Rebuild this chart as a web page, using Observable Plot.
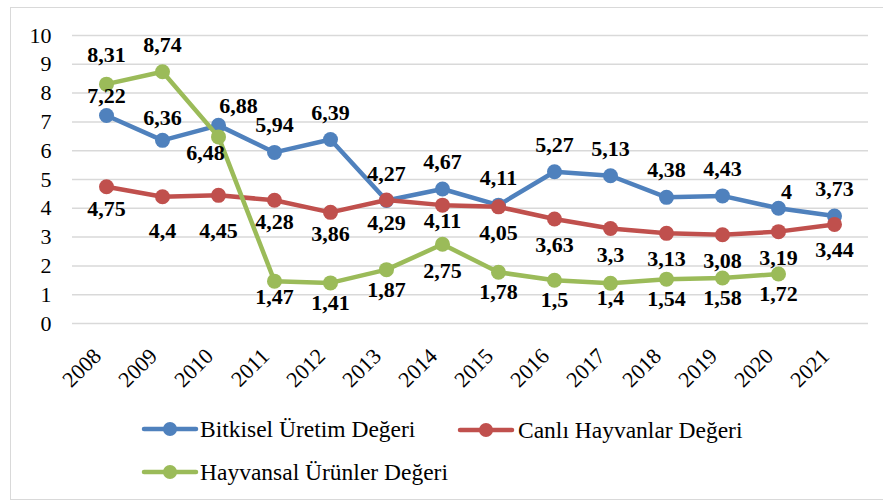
<!DOCTYPE html>
<html>
<head>
<meta charset="utf-8">
<script src="https://cdn.jsdelivr.net/npm/d3@7"></script>
<script src="https://cdn.jsdelivr.net/npm/@observablehq/plot@0.6"></script>
<style>
  html, body { margin: 0; padding: 0; background: #fff; }
  #wrap { position: relative; width: 883px; height: 502px; overflow: hidden; font-family: "Liberation Serif", "Times New Roman", serif; }
  #frame { position: absolute; left: 10px; top: 7px; width: 890px; height: 493px; border: 1.5px solid #d9d9d9; box-sizing: border-box; }
  #chart { position: absolute; left: 0; top: 0; }
  .sw { position: absolute; }
  .lt { position: absolute; height: 30px; line-height: 30px; font-size: 23.5px; color: #000; white-space: nowrap; }
</style>
</head>
<body>
<div id="wrap">
  <div id="frame"></div>
  <div id="chart"></div>
  <div id="legend"></div>
</div>
<script>
const years = ["2008","2009","2010","2011","2012","2013","2014","2015","2016","2017","2018","2019","2020","2021"];
const bitkisel = [7.22, 6.36, 6.88, 5.94, 6.39, 4.27, 4.67, 4.11, 5.27, 5.13, 4.38, 4.43, 4, 3.73];
const canli = [4.75, 4.4, 4.45, 4.28, 3.86, 4.29, 4.11, 4.05, 3.63, 3.3, 3.13, 3.08, 3.19, 3.44];
const hayvansal = [8.31, 8.74, 6.48, 1.47, 1.41, 1.87, 2.75, 1.78, 1.5, 1.4, 1.54, 1.58, 1.72];
const seriesNames = ["Bitkisel Üretim Değeri", "Canlı Hayvanlar Değeri", "Hayvansal Ürünler Değeri"];
const yTicks = [0, 1, 2, 3, 4, 5, 6, 7, 8, 9, 10];

const colors = ["#4F81BD", "#C0504D", "#9BBB59"];
const seriesValues = [bitkisel, canli, hayvansal];
// label placement (style): default offset per series, plus per-year nudges
const labelDefault = [{dx: 0, dy: -27}, {dx: 0, dy: 26}, {dx: 0, dy: 20}];
const labelNudge = [
  {"2008": {dy: -20}, "2009": {dy: -22}, "2010": {dx: 20, dy: -19}, "2020": {dx: 8, dy: -16}},
  {"2009": {dy: 34}, "2010": {dy: 36}, "2008": {dy: 22}, "2011": {dy: 22}, "2012": {dy: 22}, "2013": {dy: 23}, "2014": {dy: 16}},
  {"2008": {dy: -29}, "2009": {dy: -27}, "2010": {dx: -13, dy: 16}, "2014": {dy: 27}, "2011": {dy: 16}, "2017": {dy: 15}}
];

const font = "Liberation Serif";

const data = [];
seriesValues.forEach((vals, s) => {
  vals.forEach((v, i) => {
    const n = labelNudge[s][years[i]] || {};
    data.push({
      series: seriesNames[s], year: years[i], value: v, s,
      dx: n.dx ?? labelDefault[s].dx, dy: n.dy ?? labelDefault[s].dy
    });
  });
});
const fmt = v => String(v).replace(".", ",");

const marks = [
  Plot.gridY(yTicks, {stroke: "#d9d9d9", strokeOpacity: 1, strokeWidth: 1.5}),
  Plot.axisY({ticks: yTicks, tickSize: 0, tickPadding: 21, fontSize: 22, fontFamily: font, label: null, fill: "#000"}),
  Plot.axisX({tickSize: 0, tickRotate: -45, fontSize: 22, fontFamily: font, tickPadding: 29, dx: -9, label: null, fill: "#000"})
];
seriesNames.forEach((name, s) => {
  const d = data.filter(r => r.s === s);
  marks.push(Plot.line(d, {x: "year", y: "value", stroke: colors[s], strokeWidth: 4.5}));
  marks.push(Plot.dot(d, {x: "year", y: "value", fill: colors[s], r: 7.5}));
});
const labelGroups = d3.groups(data, r => r.dx + "_" + r.dy);
labelGroups.forEach(([key, rows]) => {
  marks.push(Plot.text(rows, {
    x: "year", y: "value", text: r => fmt(r.value),
    dx: rows[0].dx, dy: rows[0].dy,
    fontSize: 22, fontWeight: "bold", fontFamily: font, fill: "#000"
  }));
});

const chart = Plot.plot({
  width: 883, height: 405,
  marginTop: 35, marginBottom: 82, marginLeft: 72, marginRight: 15,
  style: {fontFamily: `"${font}", serif`, background: "transparent", color: "#000", overflow: "visible"},
  x: {type: "point", domain: years, padding: 0.5, label: null, axis: null},
  y: {domain: [0, 10], label: null, axis: null},
  marks
});
document.getElementById("chart").appendChild(chart);

// legend (HTML)
const legend = document.getElementById("legend");
const legPos = [{sw: 141, text: 200, y: 429}, {sw: 457, text: 518, y: 430}, {sw: 141, text: 200, y: 472}];
seriesNames.forEach((name, s) => {
  const sw = document.createElement("div");
  sw.className = "sw";
  sw.style.left = legPos[s].sw + "px";
  sw.style.top = (legPos[s].y - 10) + "px";
  sw.innerHTML = `<svg width="58" height="20"><line x1="3" y1="10" x2="55" y2="10" stroke="${colors[s]}" stroke-width="4.5" stroke-linecap="round"/><circle cx="29" cy="10" r="7" fill="${colors[s]}"/></svg>`;
  legend.appendChild(sw);
  const t = document.createElement("div");
  t.className = "lt";
  t.style.left = legPos[s].text + "px";
  t.style.top = (legPos[s].y - 15) + "px";
  t.textContent = name;
  legend.appendChild(t);
});
</script>
</body>
</html>
